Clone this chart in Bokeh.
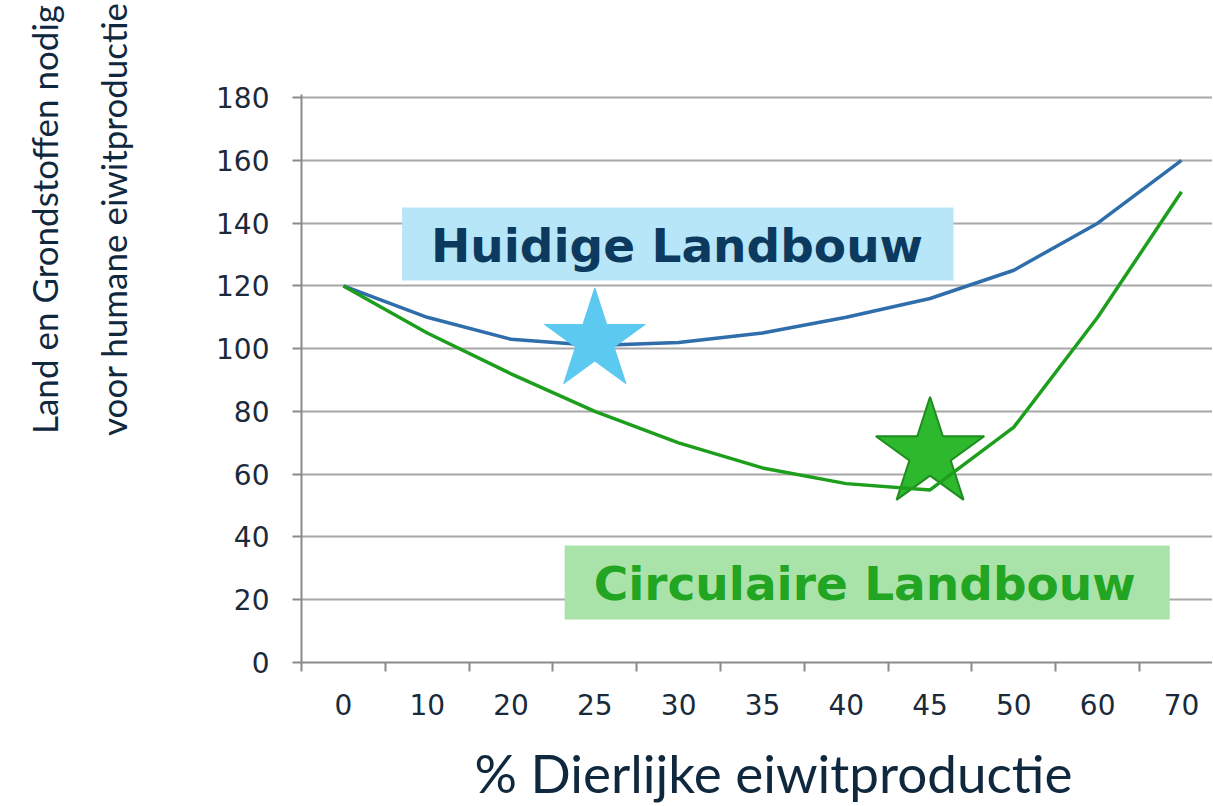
from bokeh.plotting import figure
from bokeh.models import Range1d, FixedTicker, Label, BoxAnnotation, Div
from bokeh.layouts import row, column
from bokeh.embed import file_html
from bokeh.resources import INLINE

# ---- data ----
x_labels = ["0", "10", "20", "25", "30", "35", "40", "45", "50", "60", "70"]
huidige = [120, 110, 103, 101, 102, 105, 110, 116, 125, 140, 160]
circulaire = [120, 105, 92, 80, 70, 62, 57, 55, 75, 110, 150]
star_cat = ["25", "45"]
star_val = [102.5, 66.5]
y_ticks = [0, 20, 40, 60, 80, 100, 120, 140, 160, 180]
y_title_lines = ["Land en Grondstoffen nodig", "voor humane eiwitproductie"]
x_title = "% Dierlijke eiwitproductie"
label_huidige = "Huidige Landbouw"
label_circ = "Circulaire Landbouw"

xs = list(range(len(x_labels)))
star_x = [x_labels.index(c) for c in star_cat]

GRID = "#a8a8a8"
AXIS = "#8a8a8a"
TXT = "#1a2a3a"
TITLE = "#10283e"

LEFT_W, MAIN_W, TOP_H, BOT_H = 200, 1012, 730, 75

# ---- main chart ----
p = figure(width=MAIN_W, height=TOP_H, output_backend="svg", toolbar_location=None,
           x_range=Range1d(-0.5, 10.37), y_range=Range1d(0, 181),
           min_border_left=101, min_border_right=0, min_border_top=94,
           min_border_bottom=68)
p.outline_line_color = None
p.xgrid.visible = False
p.ygrid.grid_line_color = GRID
p.ygrid.grid_line_width = 2

p.yaxis.ticker = FixedTicker(ticks=y_ticks)
p.yaxis.axis_line_color = AXIS
p.yaxis.axis_line_width = 2
p.yaxis.major_tick_line_color = AXIS
p.yaxis.major_tick_line_width = 2
p.yaxis.major_tick_out = 9
p.yaxis.major_tick_in = 0
p.yaxis.minor_tick_line_color = None
p.yaxis.major_label_text_font = "DejaVu Sans"
p.yaxis.major_label_text_font_size = "28px"
p.yaxis.major_label_text_color = TXT
p.yaxis.major_label_standoff = 23

p.xaxis.ticker = FixedTicker(ticks=xs, minor_ticks=[i - 0.5 for i in range(len(x_labels) + 1)])
p.xaxis.major_label_overrides = {i: lab for i, lab in enumerate(x_labels)}
p.xaxis.axis_line_color = AXIS
p.xaxis.axis_line_width = 2
p.xaxis.major_tick_line_color = None
p.xaxis.major_tick_out = 0
p.xaxis.major_tick_in = 0
p.xaxis.minor_tick_line_color = AXIS
p.xaxis.minor_tick_line_width = 2
p.xaxis.minor_tick_out = 9
p.xaxis.minor_tick_in = 0
p.xaxis.major_label_text_font = "DejaVu Sans"
p.xaxis.major_label_text_font_size = "28px"
p.xaxis.major_label_text_color = TXT
p.xaxis.major_label_standoff = 22

p.line(xs, huidige, line_color="#2f6dab", line_width=3.5)
p.scatter([star_x[0]], [star_val[0]], marker="star", size=106,
          fill_color="#5cc9f0", line_color="#5cc9f0")
p.scatter([star_x[1]], [star_val[1]], marker="star", size=114,
          fill_color="#2eb82e", line_color="#1f8c1f", line_width=2)
p.line(xs, circulaire, line_color="#1d9e1d", line_width=3.5)

p.add_layout(BoxAnnotation(left=0.70, right=7.28, bottom=121.7, top=145.0,
                           fill_color="#b6e6f7", fill_alpha=1, line_color=None))
p.add_layout(Label(x=3.98, y=132.8, text=label_huidige, text_align="center",
                   text_baseline="middle", text_font="DejaVu Sans",
                   text_font_style="bold", text_font_size="47px",
                   text_color="#0c3a5e"))
p.add_layout(BoxAnnotation(left=2.64, right=9.86, bottom=13.7, top=37.3,
                           fill_color="#aae3aa", fill_alpha=1, line_color=None))
p.add_layout(Label(x=6.22, y=25.2, text=label_circ, text_align="center",
                   text_baseline="middle", text_font="DejaVu Sans",
                   text_font_style="bold", text_font_size="47px",
                   text_color="#22a522"))

# ---- y-axis title (two rotated lines) ----
ytitle_html = (
    '<div style="position:absolute; left:10px; top:0px; height:438px; '
    'writing-mode:vertical-rl; transform:rotate(180deg); font-family:Lato; '
    'font-size:35px; line-height:69px; color:%s; text-align:center; '
    'white-space:nowrap;">%s<br>%s</div>' % (TITLE, y_title_lines[0], y_title_lines[1])
)
left = Div(text=ytitle_html, width=LEFT_W, height=TOP_H, margin=0,
           styles={"position": "relative", "overflow": "visible"})

# ---- x-axis title ----
bottom = figure(width=LEFT_W + MAIN_W, height=BOT_H, output_backend="svg",
                toolbar_location=None, x_axis_location=None, y_axis_location=None,
                min_border=0, x_range=Range1d(0, 1), y_range=Range1d(0, 1))
bottom.outline_line_color = None
bottom.grid.visible = False
bottom.add_layout(Label(x=773, y=BOT_H - 42, x_units="screen", y_units="screen",
                        text=x_title, text_align="center", text_baseline="middle",
                        text_font="Lato", text_font_size="53px", text_color=TITLE))

layout = column(row(left, p, spacing=0), bottom, spacing=0)
open("out.html", "w").write(file_html(layout, INLINE))
